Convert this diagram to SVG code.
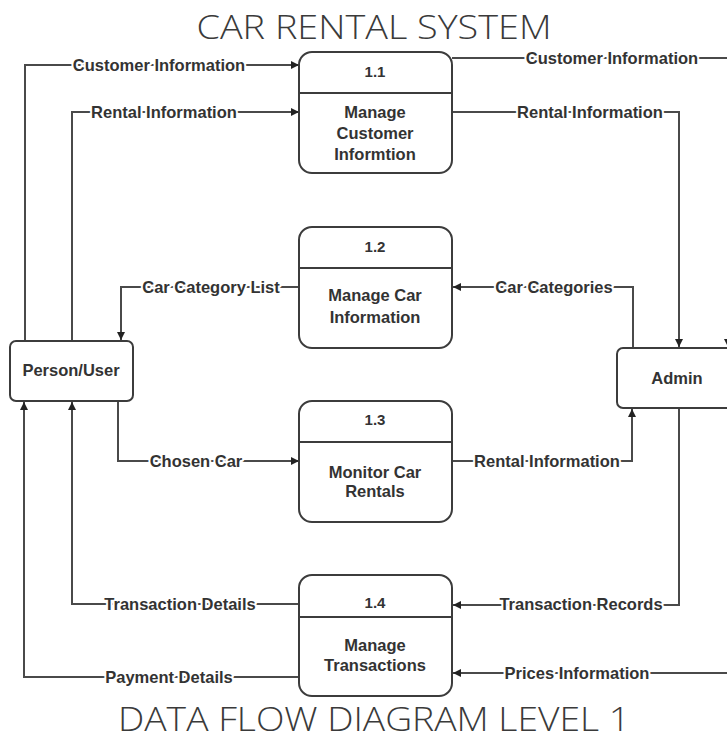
<svg xmlns="http://www.w3.org/2000/svg" width="727" height="740" viewBox="0 0 727 740">
<style>
.bg{fill:#fff}
.title{font-family:"Open Sans","Liberation Sans",sans-serif;font-weight:300;font-size:33px;fill:#3a3a3a;text-anchor:middle}
.box{fill:#fff;stroke:#3c3c3c;stroke-width:2}
.div{stroke:#3c3c3c;stroke-width:2}
.bt{font-family:"Liberation Sans",Arial,sans-serif;font-weight:bold;font-size:16.5px;fill:#333;text-anchor:middle}
.num{font-family:"Liberation Sans",Arial,sans-serif;font-weight:bold;font-size:15px;fill:#333;text-anchor:middle}
.ent{font-family:"Liberation Sans",Arial,sans-serif;font-weight:bold;font-size:16.5px;fill:#333;text-anchor:middle}
.flow{fill:none;stroke:#4a4a4a;stroke-width:2}
.lbl{font-family:"Liberation Sans",Arial,sans-serif;font-weight:bold;font-size:16.5px;fill:#333;text-anchor:middle;stroke:#fff;stroke-width:4;paint-order:stroke;stroke-linejoin:round}
</style>
<defs>
<marker id="ah" viewBox="0 0 10 10" refX="10" refY="5" markerWidth="9" markerHeight="8" markerUnits="userSpaceOnUse" orient="auto">
<path d="M0,0 L10,5 L0,10 z" fill="#222"/>
</marker>
</defs>
<rect class="bg" x="0" y="0" width="727" height="740"/>
<text class="title" x="374" y="39" textLength="355" lengthAdjust="spacingAndGlyphs">CAR RENTAL SYSTEM</text>
<text class="title" x="374" y="731" textLength="512" lengthAdjust="spacingAndGlyphs">DATA FLOW DIAGRAM LEVEL 1</text>

<g id="connectors">
<path class="flow" d="M25,341 V65 H299" marker-end="url(#ah)"/>
<path class="flow" d="M72,341 V112 H299" marker-end="url(#ah)"/>
<path class="flow" d="M452,58 H728 V347" marker-end="url(#ah)"/>
<path class="flow" d="M452,112 H679 V347" marker-end="url(#ah)"/>
<path class="flow" d="M633,348 V287 H453" marker-end="url(#ah)"/>
<path class="flow" d="M299,287 H121 V340" marker-end="url(#ah)"/>
<path class="flow" d="M118,401 V461 H299" marker-end="url(#ah)"/>
<path class="flow" d="M452,461 H632 V409" marker-end="url(#ah)"/>
<path class="flow" d="M679,408 V605 H453" marker-end="url(#ah)"/>
<path class="flow" d="M299,604 H72 V402" marker-end="url(#ah)"/>
<path class="flow" d="M740,673 H453" marker-end="url(#ah)"/>
<path class="flow" d="M299,677 H24 V402" marker-end="url(#ah)"/>
<text class="lbl" x="159" y="71">Customer Information</text>
<text class="lbl" x="164" y="118">Rental Information</text>
<text class="lbl" x="612" y="64">Customer Information</text>
<text class="lbl" x="590" y="118">Rental Information</text>
<text class="lbl" x="554" y="293">Car Categories</text>
<text class="lbl" x="211" y="293">Car Category List</text>
<text class="lbl" x="196" y="467">Chosen Car</text>
<text class="lbl" x="547" y="467">Rental Information</text>
<text class="lbl" x="581" y="610">Transaction Records</text>
<text class="lbl" x="180" y="610">Transaction Details</text>
<text class="lbl" x="577" y="679">Prices Information</text>
<text class="lbl" x="169" y="683">Payment Details</text>
</g>

<g id="p1_1">
<rect class="box" x="299" y="52" width="153" height="121" rx="13"/>
<line class="div" x1="299" y1="93" x2="452" y2="93"/>
<text class="num" x="375" y="77">1.1</text>
<text class="bt" x="375" y="118">Manage</text>
<text class="bt" x="375" y="139">Customer</text>
<text class="bt" x="375" y="160">Informtion</text>
</g>
<g id="p1_2">
<rect class="box" x="299" y="227" width="153" height="121" rx="13"/>
<line class="div" x1="299" y1="268" x2="452" y2="268"/>
<text class="num" x="375" y="252">1.2</text>
<text class="bt" x="375" y="301">Manage Car</text>
<text class="bt" x="375" y="323">Information</text>
</g>
<g id="p1_3">
<rect class="box" x="299" y="401" width="153" height="121" rx="13"/>
<line class="div" x1="299" y1="442" x2="452" y2="442"/>
<text class="num" x="375" y="425">1.3</text>
<text class="bt" x="375" y="478">Monitor Car</text>
<text class="bt" x="375" y="497">Rentals</text>
</g>
<g id="p1_4">
<rect class="box" x="299" y="575" width="153" height="121" rx="13"/>
<line class="div" x1="299" y1="617" x2="452" y2="617"/>
<text class="num" x="375" y="608">1.4</text>
<text class="bt" x="375" y="651">Manage</text>
<text class="bt" x="375" y="671">Transactions</text>
</g>
<g id="person">
<rect class="box" x="10" y="341" width="123" height="60" rx="6"/>
<text class="ent" x="71" y="376">Person/User</text>
</g>
<g id="admin">
<rect class="box" x="617" y="348" width="130" height="60" rx="6"/>
<text class="ent" x="677" y="384">Admin</text>
</g>
</svg>
